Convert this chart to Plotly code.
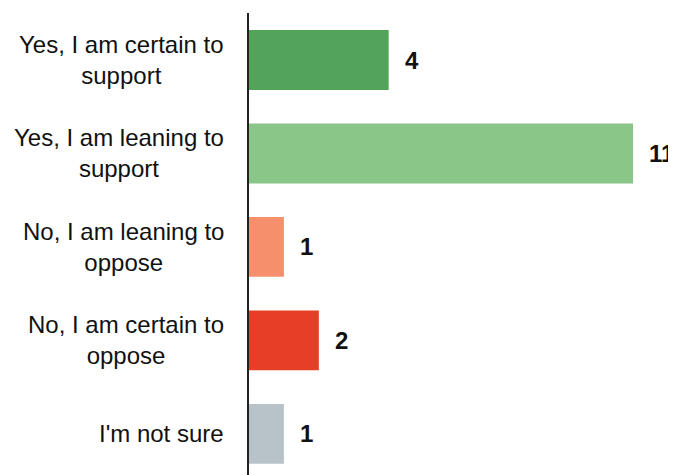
import plotly.graph_objects as go

categories = ["Yes, I am certain to support", "Yes, I am leaning to support",
              "No, I am leaning to oppose", "No, I am certain to oppose", "I'm not sure"]
tick_labels = ["Yes, I am certain to<br>support", "Yes, I am leaning to<br>support",
               "No, I am leaning to<br>oppose", "No, I am certain to<br>oppose",
               "I'm not sure"]
values = [4, 11, 1, 2, 1]
colors = ["#53A35B", "#8AC687", "#F6906C", "#E53F26", "#B8C3C9"]

FONT = "Arial"

fig = go.Figure(go.Bar(
    x=values, y=categories, orientation="h",
    marker=dict(color=colors, line=dict(width=0)),
    hoverinfo="skip",
))

ann = []
for cat, lbl, v in zip(categories, tick_labels, values):
    ann.append(dict(x=0, y=cat, xref="x", yref="y", text=lbl, showarrow=False,
                    xanchor="right", yanchor="middle", align="center", xshift=-23,
                    font=dict(family=FONT, size=24, color="#111")))
    ann.append(dict(x=v, y=cat, xref="x", yref="y", text=f"<b>{v}</b>", showarrow=False,
                    xanchor="left", yanchor="middle", xshift=14,
                    font=dict(family=FONT, size=24, color="#111")))

fig.update_layout(
    width=668, height=467,
    font=dict(family=FONT),
    margin=dict(l=241, r=0, t=5, b=0),
    paper_bgcolor="white", plot_bgcolor="white",
    bargap=0.36,
    showlegend=False,
    annotations=ann,
    xaxis=dict(range=[0, 12.23], showgrid=False, zeroline=False, showticklabels=False,
               showline=False),
    yaxis=dict(range=[4.44, -0.503], showgrid=False, zeroline=False, showticklabels=False,
               showline=True, linecolor="#222", linewidth=2, ticks=""),
)
fig.write_html("out.html")
